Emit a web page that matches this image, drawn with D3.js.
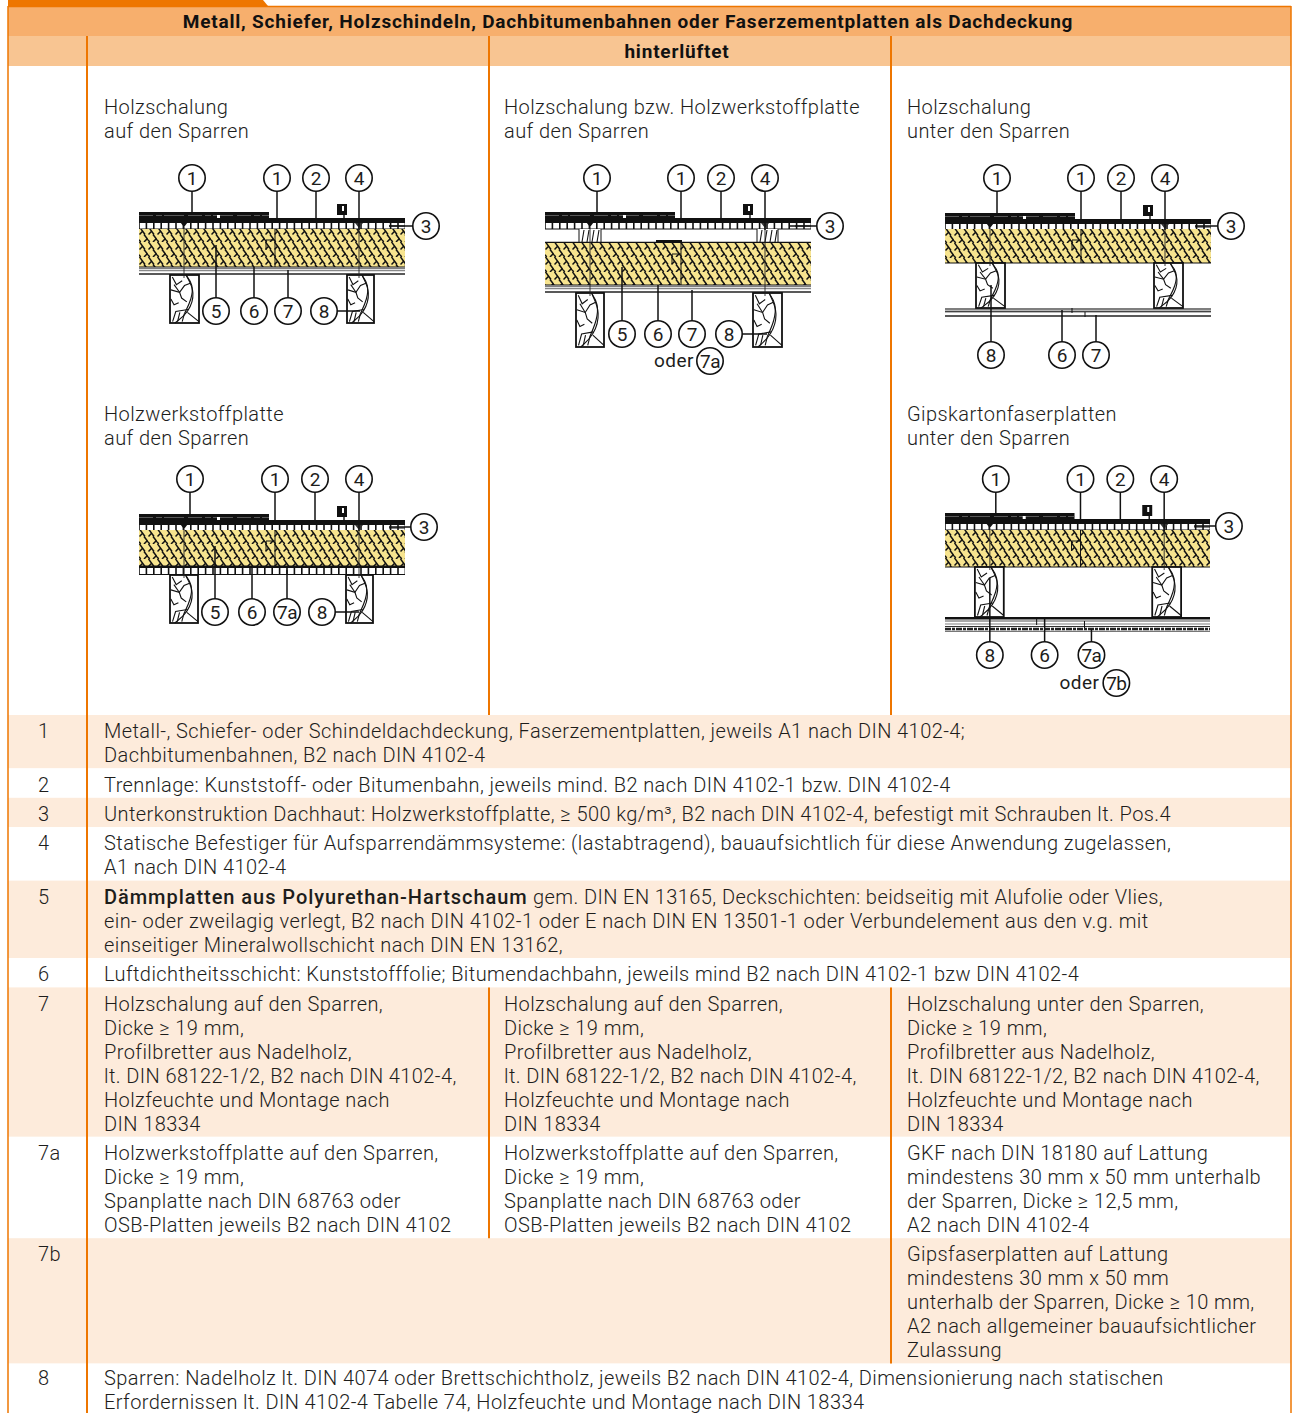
<!DOCTYPE html>
<html>
<head>
<meta charset="utf-8">
<script src="https://cdn.jsdelivr.net/npm/d3@7"></script>
<style>
html, body { margin: 0; padding: 0; background: #fff; }
text { font-family: Roboto, sans-serif; font-weight: 300; font-size: 20px; letter-spacing: 0.42px; fill: #1d1d1b; }
</style>
</head>
<body>
<div id="chart"></div>
<script>
// table text
var headTop = "Metall, Schiefer, Holzschindeln, Dachbitumenbahnen oder Faserzementplatten als Dachdeckung";
var headSub = "hinterlüftet";

var panelTitles = [
  ["Holzschalung", "auf den Sparren"],
  ["Holzschalung bzw. Holzwerkstoffplatte", "auf den Sparren"],
  ["Holzschalung", "unter den Sparren"],
  ["Holzwerkstoffplatte", "auf den Sparren"],
  ["Gipskartonfaserplatten", "unter den Sparren"]
];

var rowLabels = ["1", "2", "3", "4", "5", "6", "7", "7a", "7b", "8"];
var rowLineCounts = [2, 1, 1, 2, 3, 1, 6, 4, 5, 2];

var rowFullText = {
  "1": ["Metall-, Schiefer- oder Schindeldachdeckung, Faserzementplatten, jeweils A1 nach DIN 4102-4;",
        "Dachbitumenbahnen, B2 nach DIN 4102-4"],
  "2": ["Trennlage: Kunststoff- oder Bitumenbahn, jeweils mind. B2 nach DIN 4102-1 bzw. DIN 4102-4"],
  "3": ["Unterkonstruktion Dachhaut: Holzwerkstoffplatte, ≥ 500 kg/m³, B2 nach DIN 4102-4, befestigt mit Schrauben lt. Pos.4"],
  "4": ["Statische Befestiger für Aufsparrendämmsysteme: (lastabtragend), bauaufsichtlich für diese Anwendung zugelassen,",
        "A1 nach DIN 4102-4"],
  "5": ["gem. DIN EN 13165, Deckschichten: beidseitig mit Alufolie oder Vlies,",
        "ein- oder zweilagig verlegt, B2 nach DIN 4102-1 oder E nach DIN EN 13501-1 oder Verbundelement aus den v.g. mit",
        "einseitiger Mineralwollschicht nach DIN EN 13162,"],
  "6": ["Luftdichtheitsschicht: Kunststofffolie; Bitumendachbahn, jeweils mind B2 nach DIN 4102-1 bzw DIN 4102-4"],
  "8": ["Sparren: Nadelholz lt. DIN 4074 oder Brettschichtholz, jeweils B2 nach DIN 4102-4, Dimensionierung nach statischen",
        "Erfordernissen lt. DIN 4102-4 Tabelle 74, Holzfeuchte und Montage nach DIN 18334"]
};
var row5Bold = "Dämmplatten aus Polyurethan-Hartschaum";

var row7Cells = [
  ["Holzschalung auf den Sparren,", "Dicke ≥ 19 mm,", "Profilbretter aus Nadelholz,", "lt. DIN 68122-1/2, B2 nach DIN 4102-4,", "Holzfeuchte und Montage nach", "DIN 18334"],
  ["Holzschalung auf den Sparren,", "Dicke ≥ 19 mm,", "Profilbretter aus Nadelholz,", "lt. DIN 68122-1/2, B2 nach DIN 4102-4,", "Holzfeuchte und Montage nach", "DIN 18334"],
  ["Holzschalung unter den Sparren,", "Dicke ≥ 19 mm,", "Profilbretter aus Nadelholz,", "lt. DIN 68122-1/2, B2 nach DIN 4102-4,", "Holzfeuchte und Montage nach", "DIN 18334"]
];
var row7aCells = [
  ["Holzwerkstoffplatte auf den Sparren,", "Dicke ≥ 19 mm,", "Spanplatte nach DIN 68763 oder", "OSB-Platten jeweils B2 nach DIN 4102"],
  ["Holzwerkstoffplatte auf den Sparren,", "Dicke ≥ 19 mm,", "Spanplatte nach DIN 68763 oder", "OSB-Platten jeweils B2 nach DIN 4102"],
  ["GKF nach DIN 18180 auf Lattung", "mindestens 30 mm x 50 mm unterhalb", "der Sparren, Dicke ≥ 12,5 mm,", "A2 nach DIN 4102-4"]
];
var row7bCells = [
  [], [],
  ["Gipsfaserplatten auf Lattung", "mindestens 30 mm x 50 mm", "unterhalb der Sparren, Dicke ≥ 10 mm,", "A2 nach allgemeiner bauaufsichtlicher", "Zulassung"]
];

// layout
var width = 1293, height = 1413;
var orange = "#ee7600", band = "#fdebdb", headA = "#f7af6d", headB = "#f8c592";
var colX = [104, 504, 907];
var lineH = 24;

var svg = d3.select("#chart").append("svg")
    .attr("width", width)
    .attr("height", height)
    .style("display", "block");

// bands of the legend table
var rowHeights = rowLineCounts.map(function(n) { return n * lineH + 5.4; });
var rowTops = [715].concat(Array.from(d3.cumsum(rowHeights), function(h) { return 715 + h; }));

svg.selectAll(".rowband")
    .data(rowLabels)
    .enter().append("rect")
    .attr("class", "rowband")
    .attr("x", 8)
    .attr("y", function(d, i) { return rowTops[i]; })
    .attr("width", 1283)
    .attr("height", function(d, i) { return rowHeights[i]; })
    .attr("fill", function(d, i) { return i == 1 || i == 3 || i == 5 || i == 7 || i == 9 ? "#fff" : band; });

// header
svg.append("path").attr("d", "M8,0H263L268,6H8Z").attr("fill", orange);
svg.append("rect").attr("x", 8).attr("y", 7).attr("width", 1283).attr("height", 29).attr("fill", headA);
svg.append("rect").attr("x", 8).attr("y", 36).attr("width", 1283).attr("height", 30).attr("fill", headB);
svg.append("text").attr("x", 628).attr("y", 28).attr("text-anchor", "middle")
    .style("font-weight", 700).style("font-size", "19px").style("letter-spacing", "0.8px").style("fill", "#111").text(headTop);
svg.append("text").attr("x", 677).attr("y", 58).attr("text-anchor", "middle")
    .style("font-weight", 700).style("font-size", "19px").style("letter-spacing", "0.8px").style("fill", "#111").text(headSub);

// orange rules: x, y1, y2, width
var rules = [
  [8, 6, 1413, 1.5], [1291, 6, 1413, 1.5], [87, 36, 1413, 2],
  [489, 36, rowTops[0], 2], [891, 36, rowTops[0], 2],
  [489, rowTops[6], rowTops[8], 2], [891, rowTops[6], rowTops[9], 2]
];
svg.selectAll(".rule")
    .data(rules)
    .enter().append("line")
    .attr("class", "rule")
    .attr("x1", function(d) { return d[0]; })
    .attr("x2", function(d) { return d[0]; })
    .attr("y1", function(d) { return d[1]; })
    .attr("y2", function(d) { return d[2]; })
    .attr("stroke", orange)
    .attr("stroke-width", function(d) { return d[3]; });
svg.append("line").attr("x1", 8).attr("x2", 1291).attr("y1", 6.5).attr("y2", 6.5).attr("stroke", orange).attr("stroke-width", 1.5);

// text lines
function textBlock(lines, x, y) {
  svg.append("g").selectAll("text")
      .data(lines)
      .enter().append("text")
      .attr("x", x)
      .attr("y", function(d, i) { return y + i * lineH; })
      .text(function(d) { return d; });
}

panelTitles.forEach(function(t, i) {
  var x = [104, 504, 907, 104, 907][i];
  var y = i < 3 ? 114 : 421;
  textBlock(t, x, y);
});

rowLabels.forEach(function(lab, i) {
  var y = Math.ceil(rowTops[i] + (lab == "8" ? 21 : 22.8));
  svg.append("text").attr("x", lab.length > 1 ? 38 : 38).attr("y", y).text(lab);
  if (lab == "7") row7Cells.forEach(function(c, k) { textBlock(c, colX[k], y); });
  else if (lab == "7a") row7aCells.forEach(function(c, k) { textBlock(c, colX[k], y); });
  else if (lab == "7b") row7bCells.forEach(function(c, k) { textBlock(c, colX[k], y); });
  else if (lab == "5") {
    var first = svg.append("text").attr("x", colX[0]).attr("y", y);
    first.append("tspan").style("font-weight", 500).style("letter-spacing", "0.95px").text(row5Bold);
    first.append("tspan").text(" " + rowFullText[lab][0]);
    textBlock(rowFullText[lab].slice(1), colX[0], y + lineH);
  }
  else textBlock(rowFullText[lab], colX[0], y);
});

// insulation hatch
var defs = svg.append("defs");
var hatch = defs.append("pattern")
    .attr("id", "hatch")
    .attr("patternUnits", "userSpaceOnUse")
    .attr("width", 9)
    .attr("height", 15);
hatch.append("rect").attr("width", 9).attr("height", 15).attr("fill", "#f7e48f");
hatch.append("path")
    .attr("d", "M0.5,0L6,7.5M3.6,4.2L0.5,7.5M5,7.5L9,12.7M0,12.7L1.7,15M9,12.7L10.7,15M8.2,11.7L5,15")
    .attr("fill", "none")
    .attr("stroke", "#111")
    .attr("stroke-width", 1.5);

// the five roof sections, local coordinates with origin at the top left of the roof
var panels = [
  { ox: 139, oy: 212, w: 266, ins: [17, 55], low: [55, 63], lower: "lines", raft: [[31, 60], [208, 235]], rY: [63, 111],
    callouts: [["1", 53, -34, 53, 1], ["1", 138, -34, 138, 7], ["2", 177, -34, 177, 7], ["4", 220, -34, 220, 18], ["3", 287, 14, 250, 14],
               ["5", 77, 99, 77, 33], ["6", 115, 99, 115, 55], ["7", 149, 99, 149, 58], ["8", 185, 99, 221, 99]] },
  { ox: 545, oy: 212, w: 266, ins: [31, 73], low: [73, 81], lower: "lines", raft: [[31, 59], [208, 237]], rY: [81, 135], gap: [[34, 56], [212, 233]],
    callouts: [["1", 52, -34, 52, 1], ["1", 136, -34, 136, 7], ["2", 176, -34, 176, 7], ["4", 220, -34, 220, 18], ["3", 285, 14, 245, 14],
               ["5", 77, 122, 77, 55], ["6", 113, 122, 113, 73], ["7", 147, 122, 147, 78], ["8", 184, 122, 222, 122]],
    extra: ["oder", 109, 155], extraCallout: ["7a", 165, 149] },
  { ox: 945, oy: 213, w: 266, ins: [16, 50], low: [95, 104], lower: "lines", raft: [[31, 60], [209, 238]], rY: [50, 95],
    callouts: [["1", 52, -35, 52, 0], ["1", 136, -35, 136, 6], ["2", 176, -35, 176, 6], ["4", 220, -35, 220, 17], ["3", 286, 13, 250, 13],
               ["8", 46, 142, 46, 72], ["6", 117, 142, 117, 97], ["7", 151, 142, 151, 102]] },
  { ox: 139, oy: 514, w: 266, ins: [16, 52], low: [52, 61], lower: "boards", raft: [[31, 59], [207, 234]], rY: [61, 109],
    callouts: [["1", 51, -35, 51, 0], ["1", 136, -35, 136, 6], ["2", 176, -35, 176, 6], ["4", 220, -35, 220, 17], ["3", 285, 13, 250, 13],
               ["5", 76, 98, 76, 32], ["6", 113, 98, 113, 52], ["7a", 148, 98, 148, 56], ["8", 183, 98, 220, 98]] },
  { ox: 945, oy: 513, w: 265, ins: [17, 54], low: [104, 119], lower: "board", raft: [[30, 59], [208, 237]], rY: [54, 104],
    callouts: [["1", 51, -34, 51, 1], ["1", 136, -34, 136, 7], ["2", 176, -34, 176, 7], ["4", 220, -34, 220, 18], ["3", 285, 13, 250, 13],
               ["8", 45, 142, 45, 65], ["6", 100, 142, 100, 106], ["7a", 147, 142, 147, 116]],
    extra: ["oder", 115, 176], extraCallout: ["7b", 172, 170] }
];

// wood grain in a rafter, in unit coordinates
var grainArcs = [
  [[0.57, 0.02], [0.88, 0.36], [0.65, 0.78], [0.17, 1]],
  [[0.55, 0], [0.8, 0.2], [0.75, 0.5], [0.5, 0.8]]
];
var grainCracks = [
  [[0.03, 0.31], [0.33, 0.36], [0.5, 0.22], [0.7, 0.17]],
  [[0.33, 0.36], [0.4, 0.48], [0.58, 0.56]],
  [[0.08, 0.04], [0.22, 0.2], [0.42, 0.12]],
  [[0.33, 0.36], [0.14, 0.2]],
  [[0.03, 0.5], [0.14, 0.62], [0.3, 0.58]],
  [[0.09, 0.97], [0.2, 0.76], [0.62, 0.72]],
  [[0.26, 0.97], [0.34, 0.78]],
  [[0.42, 0.97], [0.5, 0.8]],
  [[0.6, 0.78], [1, 0.97]]
];

function drawSection(p) {
  var g = svg.append("g").attr("transform", "translate(" + p.ox + "," + p.oy + ")");
  var sx = d3.scaleLinear().domain([0, 266]).range([0, p.w]);
  function rect(x, y, w, h, fill) {
    return g.append("rect").attr("x", sx(x)).attr("y", y).attr("width", sx(w)).attr("height", h).attr("fill", fill);
  }
  function line(x1, y1, x2, y2, col, wd) {
    return g.append("line").attr("x1", sx(x1)).attr("y1", y1).attr("x2", sx(x2)).attr("y2", y2)
        .attr("stroke", col || "#111").attr("stroke-width", wd || 1);
  }

  // covering: stepped shingle part and thin membrane
  rect(0, 0, 130, 7, "#111");
  line(0, 3.5, 130, 3.5, "#777", 0.7).attr("stroke-dasharray", "14 3 6 2 20 4");
  rect(78, 3, 3, 3, "#fff");
  rect(0, 6, 266, 4, "#111");

  // counter board row
  rect(0, 10, 266, 7.5, "#111");
  g.selectAll(".bd").data(d3.range(0, 36)).enter().append("rect")
      .attr("x", function(d) { return sx(d * 7.4 + 0.8); })
      .attr("y", 11)
      .attr("width", sx(5.8))
      .attr("height", 5.5)
      .attr("fill", "#fff");
  line(250, 14, 266, 14, "#111", 1);
  g.append("path").attr("d", "M" + sx(41) + ",10L" + sx(49) + ",10L" + sx(45) + ",15Z").attr("fill", "#111");
  g.append("path").attr("d", "M" + sx(216) + ",11L" + sx(224) + ",11L" + sx(220) + ",16Z").attr("fill", "#333");

  // clip for standing seam
  rect(198, -8, 10, 11, "#111");
  rect(203, -6, 2, 5, "#fff");
  line(205, 2, 205, 7, "#111", 1.4);

  // air gap with battens in the ventilated variant
  if (p.gap) {
    p.gap.forEach(function(b) {
      rect(b[0], 17, b[1] - b[0], p.ins[0] - 17, "#fff");
      d3.range(b[0] + 3, b[1], 5).forEach(function(x) { line(x, p.ins[0] - 1, x + 2, 18, "#111", 1.1); });
      line(b[0], 17, b[0], p.ins[0], "#111", 1);
      line(b[1], 17, b[1], p.ins[0], "#111", 1);
    });
    rect(111, p.ins[0] - 3, 26, 3, "#111");
    line(0, p.ins[0] - 0.5, 266, p.ins[0] - 0.5, "#111", 1.4);
  }

  // insulation
  g.append("rect").attr("x", 0).attr("y", p.ins[0]).attr("width", sx(266)).attr("height", p.ins[1] - p.ins[0]).attr("fill", "url(#hatch)");
  line(0, p.ins[1], 266, p.ins[1], "#111", 1.2);

  // joint in the insulation
  var jy = p.ins[0] + 11;
  g.append("path")
      .attr("d", "M" + sx(127) + "," + (jy + 10) + "V" + jy + "H" + sx(136) + "V" + p.ins[1])
      .attr("fill", "none").attr("stroke", "#111");
  line(136, p.ins[0], 136, jy, "#111", 1);

  // lower layer
  var lo = p.low;
  if (p.lower == "lines") {
    rect(0, lo[0], 266, lo[1] - lo[0], "#fff");
    line(0, lo[0] + 1, 266, lo[0] + 1, "#555", 1.3);
    line(0, lo[0] + 3.5, 266, lo[0] + 3.5, "#888", 1.6);
    line(0, lo[1] - 1, 266, lo[1] - 1, "#222", 1.6);
    if (p.rY[0] < lo[0]) {
      line(0, lo[0] + 3.5, 266, lo[0] + 3.5, "#444", 1.6);
      line(127, lo[0], 127, lo[0] + 5, "#111", 1);
      line(140, lo[0] + 4, 140, lo[1], "#111", 1);
    }
  } else if (p.lower == "boards") {
    rect(0, lo[0], 266, lo[1] - lo[0], "#111");
    g.selectAll(".bl").data(d3.range(0, 36)).enter().append("rect")
        .attr("x", function(d) { return sx(d * 7.4 + 0.8); })
        .attr("y", lo[0] + 2)
        .attr("width", sx(5.8))
        .attr("height", lo[1] - lo[0] - 3)
        .attr("fill", "#fff");
  } else {
    rect(0, lo[0], 266, 2.5, "#111");
    line(0, lo[0] + 4, 266, lo[0] + 4, "#555", 1);
    line(0, lo[0] + 7, 266, lo[0] + 7, "#aaa", 1.6);
    line(0, lo[0] + 9.5, 266, lo[0] + 9.5, "#333", 1);
    line(0, lo[1] - 3, 266, lo[1] - 3, "#222", 2.6).attr("stroke-dasharray", "6 1 3 1");
    line(0, lo[1] - 0.7, 266, lo[1] - 0.7, "#555", 1);
    line(92, lo[0], 92, lo[0] + 8, "#111", 1);
    line(140, lo[0] + 4, 140, lo[0] + 11, "#111", 1);
  }

  // rafters
  var arc = d3.line().curve(d3.curveBasis);
  var crack = d3.line();
  p.raft.forEach(function(r) {
    var rx = d3.scaleLinear().domain([0, 1]).range([sx(r[0]), sx(r[1])]);
    var ry = d3.scaleLinear().domain([0, 1]).range(p.rY);
    var pts = function(d) { return d.map(function(q) { return [rx(q[0]), ry(q[1])]; }); };
    var rg = g.append("g");
    rg.append("rect").attr("x", sx(r[0])).attr("y", p.rY[0])
        .attr("width", sx(r[1] - r[0])).attr("height", p.rY[1] - p.rY[0])
        .attr("fill", "#fff").attr("stroke", "#111").attr("stroke-width", 1.8);
    rg.selectAll(".arc").data(grainArcs).enter().append("path")
        .attr("d", function(d) { return arc(pts(d)); })
        .attr("fill", "none").attr("stroke", "#111").attr("stroke-width", 1.1);
    rg.selectAll(".crack").data(grainCracks).enter().append("path")
        .attr("d", function(d) { return crack(pts(d)); })
        .attr("fill", "none").attr("stroke", "#111").attr("stroke-width", 1.1);
  });

  // screws through the whole build-up
  var fastEnd = p.rY[0] + 3;
  line(45, 15, 45, fastEnd, "#222", 0.9);
  line(220, 15, 220, fastEnd, "#222", 0.9);

  // callouts
  p.callouts.forEach(function(c) {
    line(c[1], c[2], c[3], c[4], "#111", 1.5);
  });
  var all = p.callouts.slice();
  if (p.extraCallout) all.push(p.extraCallout);
  var ring = g.selectAll(".ring").data(all).enter().append("g").attr("class", "ring")
      .attr("transform", function(d) { return "translate(" + sx(d[1]) + "," + d[2] + ")"; });
  ring.append("circle").attr("r", 13.2).attr("fill", "#fff").attr("stroke", "#111").attr("stroke-width", 1.6);
  ring.append("text").attr("text-anchor", "middle").attr("y", 6.9)
      .style("font-weight", 400)
      .style("letter-spacing", function(d) { return d[0].length > 1 ? "-0.6px" : "0"; })
      .style("font-size", "19px")
      .text(function(d) { return d[0]; });
  if (p.extra) {
    g.append("text").attr("x", sx(p.extra[1])).attr("y", p.extra[2]).style("font-size", "19px").style("font-weight", 400).text(p.extra[0]);
  }
}

panels.forEach(drawSection);
</script>
</body>
</html>
